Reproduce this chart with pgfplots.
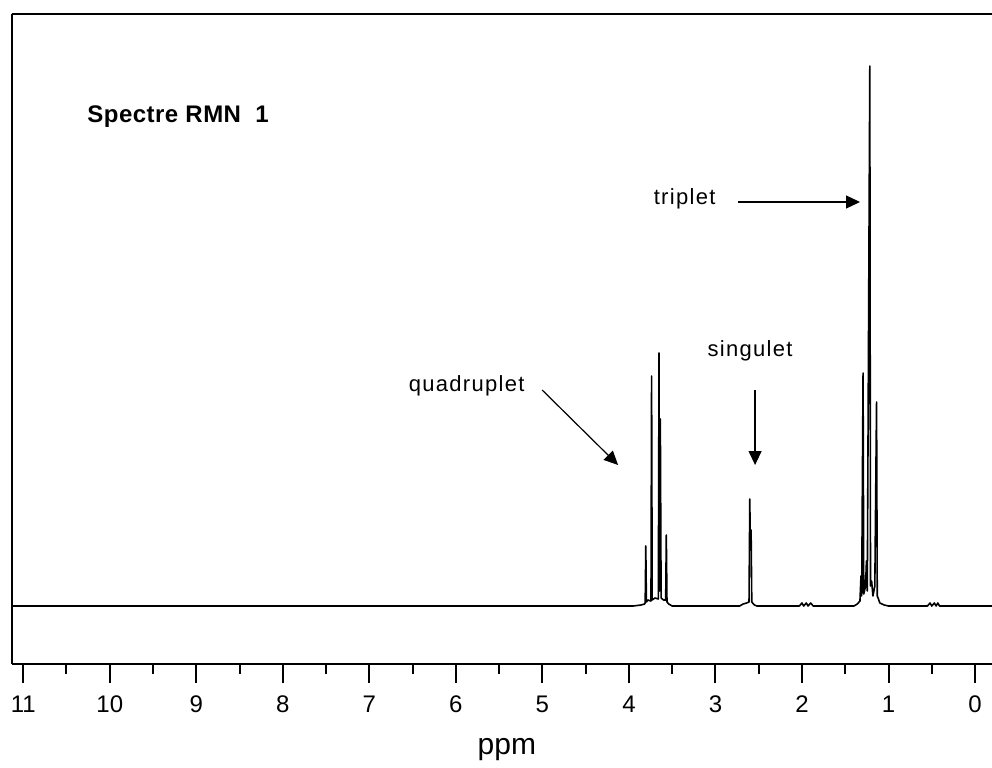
\documentclass[border=0pt]{standalone}
\usepackage{fontspec}
\setmainfont{Liberation Sans}
\newfontfamily\lblfont[LetterSpace=6]{Liberation Sans}
\newfontfamily\ttlfont[LetterSpace=2]{Liberation Sans}
\usepackage{pgfplots}
\pgfplotsset{compat=1.18}
\usetikzlibrary{arrows.meta}

\pgfplotstableread{
x y
11.13 0
3.95 0
3.86 1
3.82 2
3.812 3
3.805 60
3.798 4
3.78 6
3.745 5
3.738 230
3.731 6
3.70 8
3.66 7
3.652 253
3.645 15
3.637 187
3.628 8
3.60 6
3.575 6
3.568 71
3.560 4
3.54 2
3.50 0
2.72 0
2.68 2
2.64 3
2.612 4
2.603 107
2.597 60
2.588 76
2.580 4
2.55 1
2.52 0
2.03 0
2.00 3
1.98 0
1.95 3
1.93 0
1.90 3
1.87 0
1.40 0
1.36 2
1.33 5
1.318 30
1.310 10
1.294 233
1.286 12
1.265 20
1.255 45
1.245 15
1.216 540
1.208 20
1.195 25
1.18 10
1.158 20
1.138 204
1.130 10
1.12 8
1.10 3
1.05 1
1.00 0
0.55 0
0.52 3
0.50 0
0.47 3
0.45 0
0.43 3
0.41 0
-0.196 0
}\spectrum

\begin{document}
\begin{tikzpicture}
\begin{axis}[
  scale only axis, width=490pt, height=325pt,
  x dir=reverse, xmin=-0.196, xmax=11.13, ymin=-58, ymax=592,
  axis x line*=box, axis y line*=left,
  ytick=\empty,
  xtick={0,1,...,11}, minor xtick={0.5,1.5,...,10.5},
  xtick pos=left,
  tick align=outside,
  major tick length=9.5pt, minor tick length=5pt,
  every tick/.style={black, line width=1pt},
  axis line style={line width=1pt},
  /pgf/number format/assume math mode=true,
  xticklabel style={font=\fontsize{12}{14}\selectfont, anchor=base, yshift=-14.5pt},
  xlabel={ppm},
  xlabel style={font=\fontsize{15}{17}\selectfont, at={(axis description cs:0.505,0)}, anchor=base, yshift=-45pt},
  clip=false,
]
\addplot[black, line width=0.8pt, line join=round] table[x=x, y=y] {\spectrum};

\node[anchor=base west, font=\ttlfont\bfseries\fontsize{12}{14}\selectfont] at (axis cs:10.34,483) {Spectre RMN\ \ 1};
\node[anchor=base, font=\lblfont\fontsize{11}{13}\selectfont] at (axis cs:5.875,215) {quadruplet};
\node[anchor=base, font=\lblfont\fontsize{11}{13}\selectfont] at (axis cs:2.60,249) {singulet};
\node[anchor=base, font=\lblfont\fontsize{11}{13}\selectfont] at (axis cs:3.356,401) {triplet};

\draw[line width=0.6pt, -{Triangle[length=7pt, width=6.5pt]}] (axis cs:5.003,216) -- (axis cs:4.125,141);
\draw[line width=0.6pt, -{Triangle[length=7pt, width=6.5pt]}] (axis cs:2.542,216) -- (axis cs:2.542,141);
\draw[line width=0.6pt, -{Triangle[length=7pt, width=6.5pt]}] (axis cs:2.738,404) -- (axis cs:1.329,404);

\coordinate (tl) at (rel axis cs:0,1);
\coordinate (br) at (rel axis cs:1,0);
\end{axis}
\pgfresetboundingbox
\path ([shift={(-6pt,7pt)}]tl) rectangle ([shift={(0pt,-51.5pt)}]br);
\end{tikzpicture}
\end{document}
